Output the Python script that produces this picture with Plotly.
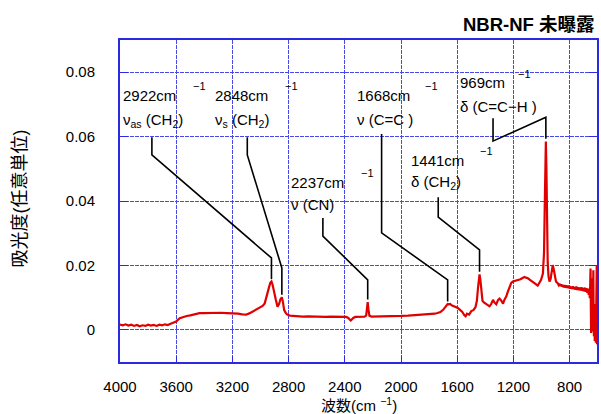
import plotly.graph_objects as go

# ---- IR spectrum (wavenumber cm^-1, absorbance) ----
wavenumber = [
    4000, 3980, 3960, 3940, 3920, 3900, 3880, 3860, 3840, 3820, 3800, 3780, 3760, 3740,
    3720, 3700, 3680, 3660, 3640, 3620, 3600, 3575, 3550, 3525, 3500, 3481, 3460, 3434,
    3400, 3360, 3316, 3280, 3240, 3198, 3160, 3130, 3103, 3080, 3056, 3030, 3005, 2985,
    2970, 2962, 2950, 2940, 2930, 2922, 2914, 2902, 2891, 2879, 2868, 2858, 2848, 2840,
    2832, 2820, 2809, 2790, 2773, 2740, 2700, 2660, 2620, 2580, 2540, 2500, 2460, 2420,
    2390, 2375, 2365, 2358, 2350, 2340, 2325, 2300, 2280, 2260, 2248, 2242, 2237, 2232,
    2225, 2210, 2180, 2150, 2100, 2050, 2000, 1950, 1900, 1850, 1800, 1760, 1740, 1720,
    1700, 1685, 1675, 1668, 1660, 1650, 1640, 1625, 1610, 1595, 1580, 1565, 1550, 1540,
    1530, 1515, 1500, 1485, 1470, 1460, 1452, 1446, 1441, 1435, 1428, 1420, 1410, 1400,
    1385, 1370, 1358, 1345, 1335, 1322, 1310, 1298, 1285, 1274, 1262, 1251, 1240, 1227,
    1215, 1204, 1185, 1168, 1150, 1135, 1121, 1110, 1097, 1075, 1060, 1050, 1038, 1027,
    1015, 1003, 990, 982, 977, 973, 969, 965, 961, 956, 950, 943, 935, 928,
    920, 913, 905, 897, 885, 878, 872, 866, 860, 854, 848, 842, 836, 830,
    824, 818, 812, 806, 800, 794, 788, 782, 776, 770, 764, 758, 752, 746,
    740, 734, 728, 722, 716, 710, 704, 698, 692, 686, 680, 674, 668, 664,
    660, 656, 653, 651, 649, 647, 645, 643, 641, 639, 637, 635, 633, 631,
    629, 627, 625, 623, 621, 619, 617, 615, 613, 611, 609, 607, 605,
]
absorbance = [
    0.0016, 0.0014, 0.0017, 0.0013, 0.0016, 0.0012, 0.0015, 0.0011, 0.0014, 0.0012, 0.0016, 0.0013, 0.0015, 0.0012,
    0.0016, 0.0014, 0.0017, 0.0015, 0.0019, 0.0022, 0.0026, 0.0036, 0.0040, 0.0043, 0.0045, 0.0047, 0.0049, 0.0052,
    0.0052, 0.0053, 0.0052, 0.0053, 0.0052, 0.0052, 0.0050, 0.0048, 0.0047, 0.0051, 0.0057, 0.0063, 0.0068, 0.0074,
    0.0082, 0.0093, 0.0112, 0.0131, 0.0146, 0.0150, 0.0140, 0.0112, 0.0093, 0.0072, 0.0080, 0.0095, 0.0101, 0.0086,
    0.0062, 0.0052, 0.0047, 0.0044, 0.0043, 0.0042, 0.0041, 0.0042, 0.0041, 0.0041, 0.0040, 0.0041, 0.0040, 0.0041,
    0.0040, 0.0037, 0.0031, 0.0029, 0.0032, 0.0037, 0.0040, 0.0041, 0.0040, 0.0041, 0.0044, 0.0062, 0.0086, 0.0064,
    0.0044, 0.0041, 0.0041, 0.0041, 0.0042, 0.0042, 0.0043, 0.0044, 0.0045, 0.0046, 0.0048, 0.0050, 0.0052, 0.0055,
    0.0062, 0.0072, 0.0078, 0.0080, 0.0079, 0.0080, 0.0076, 0.0074, 0.0072, 0.0068, 0.0062, 0.0056, 0.0046, 0.0042,
    0.0050, 0.0047, 0.0058, 0.0061, 0.0070, 0.0090, 0.0130, 0.0165, 0.0172, 0.0155, 0.0115, 0.0090, 0.0085, 0.0082,
    0.0078, 0.0073, 0.0080, 0.0093, 0.0085, 0.0079, 0.0092, 0.0097, 0.0090, 0.0081, 0.0095, 0.0103, 0.0118, 0.0136,
    0.0146, 0.0150, 0.0152, 0.0153, 0.0157, 0.0161, 0.0164, 0.0162, 0.0160, 0.0153, 0.0149, 0.0146, 0.0141, 0.0137,
    0.0145, 0.0155, 0.0175, 0.0240, 0.0380, 0.0530, 0.0585, 0.0500, 0.0330, 0.0210, 0.0165, 0.0150, 0.0158, 0.0182,
    0.0201, 0.0188, 0.0163, 0.0150, 0.0145, 0.0139, 0.0143, 0.0136, 0.0141, 0.0134, 0.0140, 0.0132, 0.0139, 0.0131,
    0.0138, 0.0130, 0.0137, 0.0129, 0.0136, 0.0128, 0.0134, 0.0127, 0.0135, 0.0126, 0.0133, 0.0125, 0.0134, 0.0124,
    0.0132, 0.0123, 0.0131, 0.0122, 0.0132, 0.0121, 0.0130, 0.0120, 0.0131, 0.0118, 0.0129, 0.0115, 0.0128, 0.0108,
    0.0125, 0.0098, 0.0150, 0.0190, 0.0080, -0.0010, 0.0100, 0.0040, 0.0160, 0.0020, 0.0120, -0.0005, 0.0090, 0.0185,
    0.0030, -0.0020, 0.0080, 0.0010, -0.0035, 0.0050, -0.0010, 0.0030, -0.0040, 0.0010, 0.0060, 0.0200, -0.0045,
]

# ---- assigned bands ----
peak_wn = [2922, 2848, 2237, 1668, 1441, 969]
peak_abs = [0.0150, 0.0101, 0.0086, 0.0080, 0.0172, 0.0585]
band_top = ["2922cm", "2848cm", "2237cm", "1668cm", "1441cm", "969cm"]
band_mode = [
    "ν<sub>as</sub> (CH<sub>2</sub>)",
    "ν<sub>s</sub> (CH<sub>2</sub>)",
    "ν (CN)",
    "ν (C=C )",
    "δ (CH<sub>2</sub>)",
    "δ (C=C−H )",
]

# label placement (data coordinates): text x, first-line y, second-line y,
# superscript x/y, leader start x, leader start y, elbow y, knee y
label_pos = [
    dict(x=3993, y1=0.0729, y2=0.0651, sx=3497, sy=0.0757, lx=3773, ly0=0.0598, ly1=0.0543, ky=0.0223),
    dict(x=3335, y1=0.0729, y2=0.0651, sx=2839, sy=0.0757, lx=3094, ly0=0.0598, ly1=0.0543, ky=0.0192),
    dict(x=2796, y1=0.0456, y2=0.0388, sx=2301, sy=0.0487, lx=2556, ly0=0.0347, ly1=0.0291, ky=0.0155),
    dict(x=2329, y1=0.0729, y2=0.0654, sx=1841, sy=0.0757, lx=2138, ly0=0.0608, ly1=0.0301, ky=0.0155),
    dict(x=1940, y1=0.0527, y2=0.0456, sx=1451, sy=0.0555, lx=1735, ly0=0.0412, ly1=0.0350, ky=0.0248),
    dict(x=1593, y1=0.0769, y2=0.0692, sx=1182, sy=0.0794, lx=1345, ly0=0.0657, ly1=0.0586, ky=0.0660),
]
leader_gap = 0.0008

FONT = "Arial, 'Liberation Sans', 'Noto Sans CJK JP', sans-serif"
BLUE = "#2a2ae0"
GRID = "#4848e8"

fig = go.Figure()

fig.add_trace(go.Scatter(
    x=wavenumber, y=absorbance, mode="lines",
    line=dict(color="#e00000", width=2.2), showlegend=False, hoverinfo="skip",
))

annotations = []
for wn, ab, top, mode, p in zip(peak_wn, peak_abs, band_top, band_mode, label_pos):
    fig.add_trace(go.Scatter(
        x=[p["lx"], p["lx"], wn, wn],
        y=[p["ly0"], p["ly1"], p["ky"], ab + leader_gap],
        mode="lines", line=dict(color="black", width=1.6),
        showlegend=False, hoverinfo="skip",
    ))
    annotations.append(dict(x=p["x"], y=p["y1"], text=top, showarrow=False,
                            xanchor="left", yanchor="middle",
                            font=dict(family=FONT, size=15, color="black")))
    annotations.append(dict(x=p["sx"], y=p["sy"], text="−1", showarrow=False,
                            xanchor="left", yanchor="middle",
                            font=dict(family=FONT, size=11, color="black")))
    annotations.append(dict(x=p["x"], y=p["y2"], text=mode, showarrow=False,
                            xanchor="left", yanchor="middle",
                            font=dict(family=FONT, size=15, color="black")))

annotations += [
    dict(xref="paper", yref="paper", x=1.0, y=1.047, text="<b>NBR-NF 未曝露</b>",
         showarrow=False, xanchor="right", yanchor="middle",
         font=dict(family=FONT, size=18.5, color="black")),
    dict(xref="paper", yref="paper", x=-0.209, y=0.509, text="吸光度(任意単位)",
         textangle=-90, showarrow=False, xanchor="center", yanchor="middle",
         font=dict(family=FONT, size=18, color="black")),
    dict(xref="paper", yref="paper", x=0.5, y=-0.133, text="波数(cm <sup>−1</sup>)",
         showarrow=False, xanchor="center", yanchor="middle",
         font=dict(family=FONT, size=15, color="black")),
]

fig.update_layout(
    width=601, height=414,
    margin=dict(l=120, r=2, t=40, b=52),
    paper_bgcolor="white", plot_bgcolor="white",
    annotations=annotations,
    showlegend=False,
)
fig.update_xaxes(
    range=[4000, 605], tick0=0, dtick=400,
    showgrid=True, gridcolor=GRID, gridwidth=1, griddash="4px,1px",
    showline=True, mirror=True, linecolor=BLUE, linewidth=2,
    ticks="inside", ticklen=6, tickcolor=BLUE,
    ticklabelstandoff=10,
    tickfont=dict(family=FONT, size=15, color="black"),
    zeroline=False,
)
fig.update_yaxes(
    range=[-0.01, 0.09], tick0=0, dtick=0.02,
    showgrid=True, gridcolor=GRID, gridwidth=1, griddash="4px,1px",
    showline=True, mirror="allticks", linecolor=BLUE, linewidth=2,
    ticks="inside", ticklen=8, tickcolor=BLUE,
    ticklabelstandoff=20,
    tickfont=dict(family=FONT, size=15, color="black"),
    zeroline=False,
)

fig.write_html("out.html")
